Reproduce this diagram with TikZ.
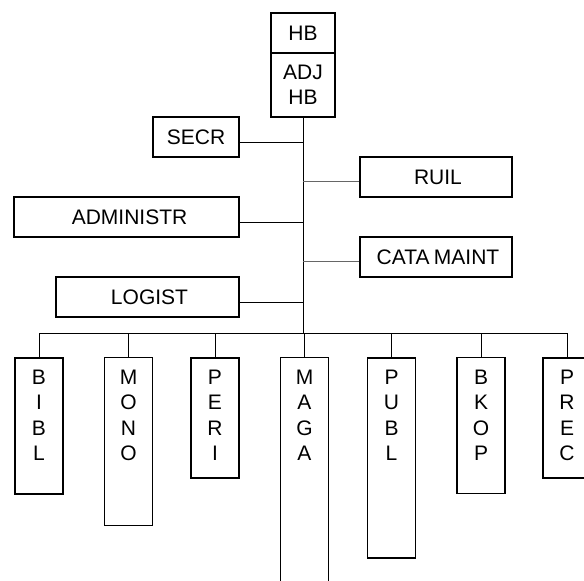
\documentclass[tikz,border=0pt]{standalone}
\usepackage{fontspec}
\setmainfont{Liberation Sans}
\newcommand{\vlab}[2]{\parbox[c][#1pt][t]{48pt}{\centering\vspace*{12pt}#2}}
\begin{document}
\begin{tikzpicture}[x=1pt,y=-1pt,
  every node/.style={font=\fontsize{21}{25.5}\selectfont},
  box/.style={draw=black,line width=1.5pt,inner sep=0pt,align=center},
  thinbox/.style={box,line width=1.1pt},
  vbox/.style={box,anchor=north},
  thinvbox/.style={thinbox,anchor=north},
  conn/.style={draw=black,line width=0.8pt},
  gconn/.style={draw=black!60,line width=1pt}]
\useasboundingbox (0,0) rectangle (584,581);
\clip (0,0) rectangle (584,581);
% top boxes
\node[box,minimum width=64pt,minimum height=40pt] (hb) at (303,33) {HB};
\node[box,minimum width=64pt,minimum height=64pt] (adj) at (303,85) {ADJ\\HB};
% side boxes
\node[box,minimum width=86pt,minimum height=40pt] (secr) at (196,137) {SECR};
\node[box,minimum width=152pt,minimum height=40pt] (ruil) at (436,177) {\hspace*{4pt}RUIL};
\node[box,minimum width=225pt,minimum height=40pt] (admin) at (126.5,217) {\hspace*{6pt}ADMINISTR};
\node[box,minimum width=152pt,minimum height=40pt] (cata) at (436,257) {\hspace*{4pt}CATA\hspace{-1.5pt} MAINT};
\node[thinbox,minimum width=183pt,minimum height=40pt] (logist) at (147.5,297) {\hspace*{4pt}LOGIST};
% bottom boxes
\node[vbox] (bibl) at (39,357) {\vlab{136}{B\\I\\B\\L}};
\node[thinvbox] (mono) at (128.5,357) {\vlab{168}{M\\O\\N\\O}};
\node[vbox] (peri) at (215,357) {\vlab{120}{P\\E\\R\\I}};
\node[thinvbox] (maga) at (304.5,357) {\vlab{240}{M\\A\\G\\A}};
\node[vbox] (publ) at (391.5,357) {\vlab{200}{P\\U\\B\\L}};
\node[thinvbox] (bkop) at (481,357) {\vlab{136}{B\\K\\O\\P}};
\node[vbox] (prec) at (567,357) {\vlab{120}{P\\R\\E\\C}};
% spine and bus
\coordinate (bus) at (0,333);
\draw[conn] (adj.south) -- (adj.south |- bus);
\draw[conn] (bibl.north) -- (bibl.north |- bus) -- (prec.north |- bus) -- (prec.north);
\foreach \n in {mono,peri,publ,bkop} \draw[conn] (\n.north) -- (\n.north |- bus);
\draw[conn] (maga.north) -- (maga.north |- bus);
% side connectors
\foreach \n in {secr,admin,logist}
  \draw[conn] ([yshift=-5pt]\n.east) -- ([yshift=-5pt]\n.east -| adj.south);
\foreach \n in {ruil,cata}
  \draw[gconn] ([yshift=-4pt]\n.west) -- ([yshift=-4pt]\n.west -| adj.south);
\end{tikzpicture}
\end{document}
